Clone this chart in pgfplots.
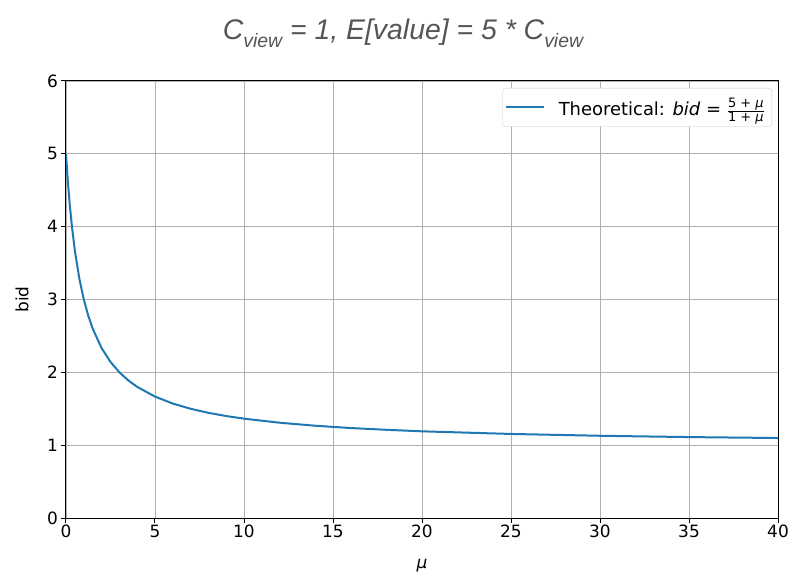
\documentclass[border=0pt]{standalone}
\usepackage{pgfplots}
\pgfplotsset{compat=1.18}
\usepackage{fontspec}
\setmainfont{DejaVu Sans}
\newfontfamily\titlefont{Liberation Sans}
\definecolor{cLine}{HTML}{1F77B4}
\definecolor{cGrid}{HTML}{B0B0B0}
\definecolor{cTitle}{HTML}{555555}

\begin{document}
\begin{tikzpicture}
  \begin{axis}[
    scale only axis, width=712bp, height=437bp,
    xmin=0, xmax=40, ymin=0, ymax=6,
    xtick={0,5,...,40}, ytick={0,1,...,6},
    xtick pos=bottom, ytick pos=left,
    grid=major, grid style={cGrid, line width=0.8bp},
    axis line style={black, line width=1bp},
    tick style={black, line width=1bp}, tick align=outside,
    major tick length=5bp,
    /pgf/number format/assume math mode=true,
    tick label style={font=\fontsize{17}{19}\selectfont},
    xticklabel style={inner sep=2bp},
    yticklabel style={inner sep=3bp},
    xlabel={\textit{μ}}, ylabel={bid},
    label style={font=\fontsize{17}{19}\selectfont},
    xlabel style={at={(rel axis cs:0.5,0)}, anchor=center, yshift=-48bp},
    ylabel style={at={(rel axis cs:0,0.5)}, anchor=center, yshift=44bp},
    legend cell align=left,
    legend style={at={(1,1)}, xshift=-6bp, yshift=-7bp, anchor=north east,
                  draw=black!20, rounded corners=3bp, fill=white,
                  font=\fontsize{18}{20}\selectfont,
                  inner xsep=2bp, inner ysep=4bp},
    legend image code/.code={\draw[line width=2bp] (0bp,0bp) -- (38bp,0bp);},
    legend style={nodes={inner xsep=5bp, inner ysep=6bp}},
  ]
    \addplot[cLine, line width=2bp] coordinates {
      (0,5) (0.1,4.636) (0.2,4.333) (0.33,4.008) (0.5,3.667) (0.75,3.286)
      (1,3) (1.25,2.778) (1.5,2.6) (2,2.333) (2.5,2.143) (3,2) (3.5,1.889)
      (4,1.8) (5,1.667) (6,1.571) (7,1.5) (8,1.444) (9,1.4) (10,1.364)
      (12,1.308) (14,1.267) (16,1.235) (18,1.211) (20,1.190) (25,1.154)
      (30,1.129) (35,1.111) (40,1.098)
    };
    \addlegendentry{\hspace{9bp}Theoretical: \textit{bid} = $\frac{\hbox{\fontsize{13}{14}\selectfont 5 + \textit{μ}}}{\hbox{\fontsize{13}{14}\selectfont 1 + \textit{μ}}}$}
  \end{axis}
  \node[font=\titlefont\itshape\fontsize{28.5}{32}\selectfont, text=cTitle]
    at ([shift={(337bp,485bp)}]current axis.south west)
    {C\raisebox{-8bp}{\fontsize{19.5}{22}\selectfont view} = 1, E[value] = 5 * C\raisebox{-8bp}{\fontsize{19.5}{22}\selectfont view}};
  \pgfresetboundingbox
  \path ([shift={(-66bp,-57bp)}]current axis.south west) rectangle ++(792bp,575bp);
\end{tikzpicture}
\end{document}
